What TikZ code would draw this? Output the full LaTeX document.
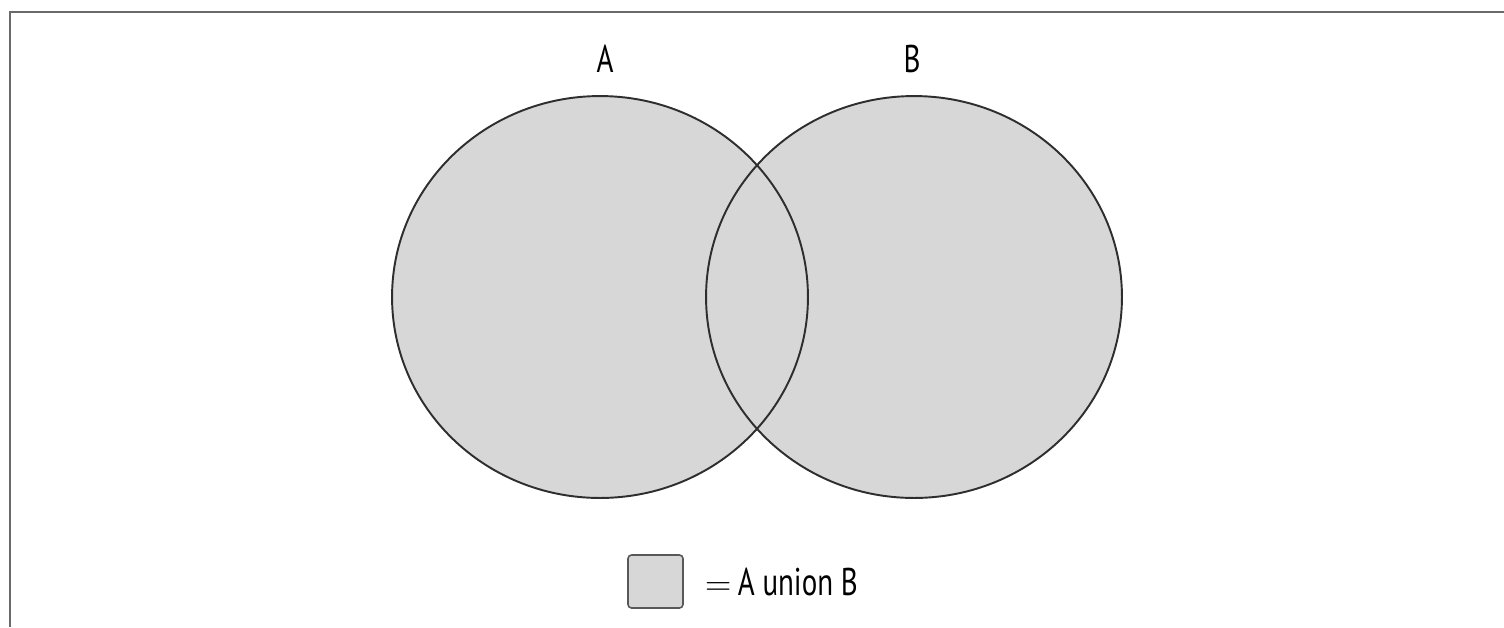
\documentclass[tikz,border=0pt]{standalone}
\usepackage{fontspec}
\setsansfont[FakeStretch=0.75]{PT Sans}
\usepackage{tikz}
\usetikzlibrary{positioning, shapes.geometric}
\definecolor{setgrey}{HTML}{D7D7D7}
\definecolor{edgegrey}{HTML}{2E2E2E}
\definecolor{framegrey}{HTML}{6A6A6A}

\begin{document}
\begin{tikzpicture}[x=0.02cm,y=-0.02cm,
  setcircle/.style={ellipse,minimum width=8.32cm,minimum height=8.04cm,inner sep=0pt,fill=setgrey},
  setedge/.style={ellipse,minimum width=8.32cm,minimum height=8.04cm,inner sep=0pt,draw=edgegrey,line width=1.1pt},
  lbl/.style={font=\sffamily\fontsize{22}{24}\selectfont,text=black,inner sep=0pt},
  keybox/.style={rectangle,rounded corners=2pt,minimum width=1.1cm,minimum height=1.06cm,
    fill=setgrey,draw=edgegrey!80,line width=0.9pt}]
  \useasboundingbox (0,0) rectangle (1504,627);
  % frame
  \draw[framegrey,line width=1.1pt] (10,627) -- (10,12) -- (1504,12);
  % sets
  \node[setcircle] (A) at (600,297) {};
  \node[setcircle] (B) at (914,297) {};
  \node[setedge] (Aedge) at (A) {};
  \node[setedge] (Bedge) at (B) {};
  \node[lbl] (labA) at (605,58.5) {A};
  \node[lbl] (labB) at (912,58.5) {B};
  % key
  \node[keybox] (key) at (655.5,581.5) {};
  \node[lbl,right=0.42cm of key] (keytext) {$=$\,A union B};
\end{tikzpicture}
\end{document}
